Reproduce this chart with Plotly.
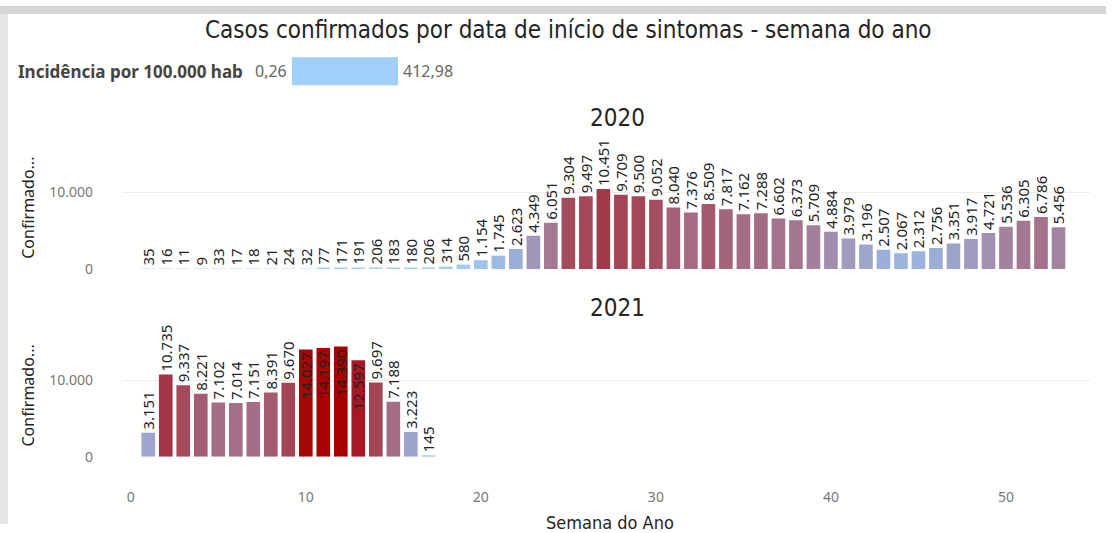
import plotly.graph_objects as go

# ---------------- data ----------------
weeks_2020 = list(range(1, 54))
cases_2020 = [35, 16, 11, 9, 33, 17, 18, 21, 24, 32,
              77, 171, 191, 206, 183, 180, 206, 314, 580, 1154,
              1745, 2623, 4349, 6051, 9304, 9497, 10451, 9709, 9500, 9052,
              8040, 7376, 8509, 7817, 7162, 7288, 6602, 6373, 5709, 4884,
              3979, 3196, 2507, 2067, 2312, 2756, 3351, 3917, 4721, 5536,
              6305, 6786, 5456]
weeks_2021 = list(range(1, 18))
cases_2021 = [3151, 10735, 9337, 8221, 7102, 7014, 7151, 8391, 9670, 14027,
              14197, 14390, 12597, 9697, 7188, 3223, 145]
years = ["2020", "2021"]
incid_min_label = "0,26"
incid_max_label = "412,98"
x_tick_vals = [0, 10, 20, 30, 40, 50]
y_tick_vals = [0, 10000]
y_tick_text = ["0", "10.000"]

# ---------------- layout helpers ----------------
W, H = 1117, 533
K = 533 / 522.0  # vertical compensation for page capture
def px(x):
    return x / W
def py(y):
    return max(0.0, min(1.0, 1 - y * K / H))

cmin = min(cases_2020 + cases_2021)
cmax = max(cases_2020 + cases_2021)
colorscale = [
    [0.0, "#A7D0F7"],
    [0.08, "#9EC2EC"],
    [0.18, "#9BAED8"],
    [0.30, "#A096B9"],
    [0.42, "#A47A93"],
    [0.52, "#A46A82"],
    [0.65, "#A44A5B"],
    [0.73, "#A3394B"],
    [0.85, "#A61E2B"],
    [1.0, "#A80000"],
]
YMAX = 16000

def fmt(v):
    return f"{v:,}".replace(",", ".")

def positions(vals):
    return ["inside" if v > 12000 else "outside" for v in vals]

lab_font = dict(family="Noto Sans", size=15, color="#222222")

fig = go.Figure()
for weeks, cases, xa, ya in [(weeks_2020, cases_2020, "x", "y"),
                             (weeks_2021, cases_2021, "x2", "y2")]:
    fig.add_trace(go.Bar(
        x=weeks, y=cases,
        xaxis=xa, yaxis=ya,
        width=0.78,
        marker=dict(color=cases, colorscale=colorscale, cmin=cmin, cmax=cmax,
                    line=dict(width=0)),
        text=[fmt(v) for v in cases],
        textposition=positions(cases),
        insidetextanchor="end",
        textangle=-90,
        textfont=lab_font,
        insidetextfont=lab_font,
        outsidetextfont=lab_font,
        constraintext="none",
        cliponaxis=False,
        hoverinfo="x+y",
        showlegend=False,
    ))

xdom = [px(122), px(1090)]
xrange = [-0.5, 54.8]
dom2020 = [py(268), py(146)]
dom2021 = [py(455), py(333)]
tickfont = dict(family="Noto Sans", size=14, color="#777777")
grid = "#EDEDED"

fig.update_layout(
    width=W, height=H,
    margin=dict(l=0, r=0, t=0, b=0),
    paper_bgcolor="white", plot_bgcolor="white",
    bargap=0.2,
    font=dict(family="Noto Sans"),
    xaxis=dict(domain=xdom, range=xrange, anchor="y", showticklabels=False,
               showgrid=False, zeroline=False, showline=False),
    xaxis2=dict(domain=xdom, range=xrange, anchor="y2", matches="x",
                tickvals=x_tick_vals, tickfont=tickfont, ticks="",
                ticklabelstandoff=30,
                showgrid=False, zeroline=False, showline=False),
    yaxis=dict(domain=dom2020, range=[0, YMAX], anchor="x",
               tickvals=y_tick_vals, ticktext=y_tick_text, tickfont=tickfont,
               ticklabelstandoff=28, gridcolor=grid, zeroline=False, showline=False),
    yaxis2=dict(domain=dom2021, range=[0, YMAX], anchor="x2",
                tickvals=y_tick_vals, ticktext=y_tick_text, tickfont=tickfont,
                ticklabelstandoff=28, gridcolor=grid, zeroline=False, showline=False),
)

# frame decoration (report container)
fig.add_shape(type="rect", xref="paper", yref="paper",
              x0=0, x1=px(1106), y0=py(14), y1=py(6),
              fillcolor="#D6D6D6", line=dict(width=0), layer="below")
fig.add_shape(type="rect", xref="paper", yref="paper",
              x0=0, x1=px(8), y0=0, y1=py(14),
              fillcolor="#E6E6E6", line=dict(width=0), layer="below")

title_font = "DejaVu Sans Condensed"
ann = []
ann.append(dict(text="Casos confirmados por data de início de sintomas - semana do ano",
                x=px(568), y=py(30), xref="paper", yref="paper", showarrow=False,
                xanchor="center", yanchor="middle",
                font=dict(family=title_font, size=24, color="#252423")))
ann.append(dict(text="<b>Incidência por 100.000 hab</b>", x=px(16), y=py(71),
                xref="paper", yref="paper", showarrow=False, xanchor="left", yanchor="middle",
                font=dict(family="Noto Sans", size=17, color="#444444")))
ann.append(dict(text=incid_min_label, x=px(289), y=py(71),
                xref="paper", yref="paper", showarrow=False, xanchor="right", yanchor="middle",
                font=dict(family="Noto Sans", size=16, color="#666666")))
ann.append(dict(text=incid_max_label, x=px(401), y=py(71),
                xref="paper", yref="paper", showarrow=False, xanchor="left", yanchor="middle",
                font=dict(family="Noto Sans", size=16, color="#666666")))
fig.add_shape(type="rect", xref="paper", yref="paper",
              x0=px(292), x1=px(398), y0=py(85), y1=py(57),
              fillcolor="#A0CFFA", line=dict(width=0))

for yr, ytop, dom in [(years[0], 118, dom2020), (years[1], 307, dom2021)]:
    ann.append(dict(text=yr, x=px(617), y=py(ytop), xref="paper", yref="paper",
                    showarrow=False, xanchor="center", yanchor="middle",
                    font=dict(family=title_font, size=24, color="#252423")))
    ann.append(dict(text="Confirmado...", x=px(28), y=(dom[0] + dom[1]) / 2,
                    xref="paper", yref="paper", showarrow=False, textangle=-90,
                    xanchor="center", yanchor="middle",
                    font=dict(family="Noto Sans", size=16, color="#252423")))

ann.append(dict(text="Semana do Ano", x=px(610), y=py(521), xref="paper", yref="paper",
                showarrow=False, xanchor="center", yanchor="middle",
                font=dict(family=title_font, size=18, color="#252423")))
fig.update_layout(annotations=ann)

fig.write_html(
    "out.html", config={"displayModeBar": False},
    post_script=("document.body.style.margin='0px';"
                 "document.body.style.overflow='hidden';"
                 "document.documentElement.style.overflow='hidden';"))
